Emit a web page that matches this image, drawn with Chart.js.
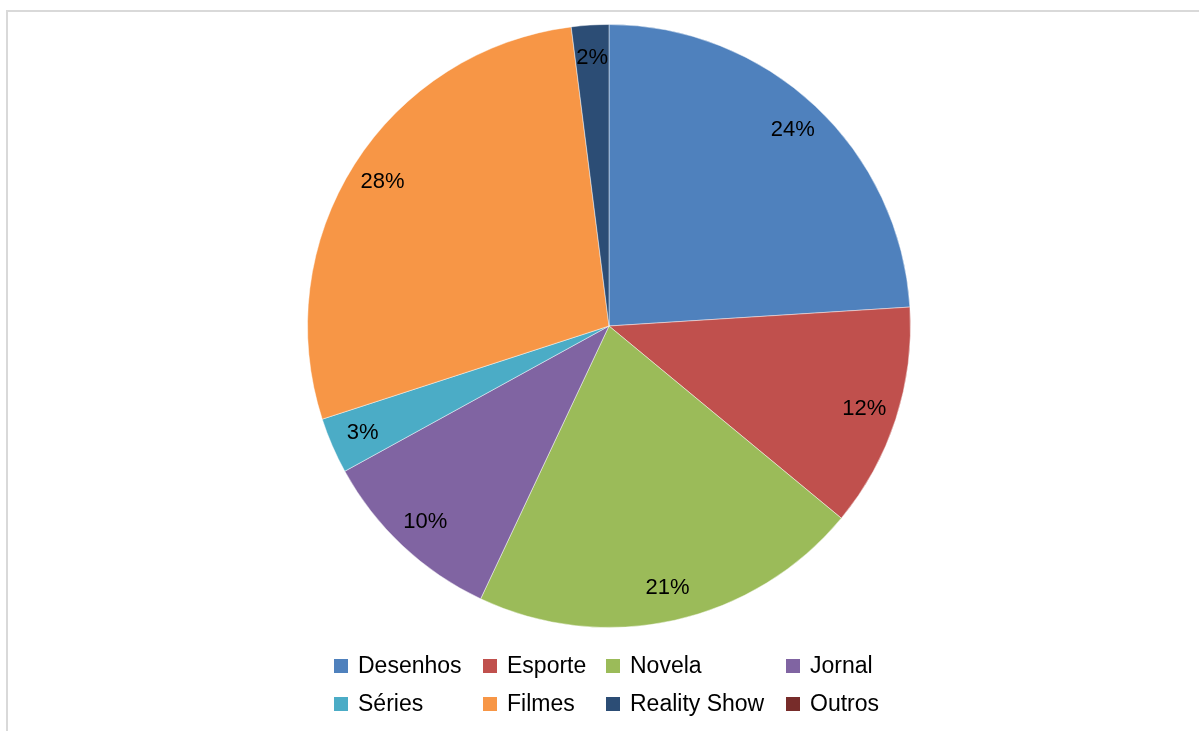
<!DOCTYPE html>
<html>
<head>
<meta charset="utf-8">
<title>Programas preferidos</title>
<script src="https://cdn.jsdelivr.net/npm/chart.js@4/dist/chart.umd.min.js"></script>
<style>
  html, body { margin: 0; padding: 0; background: #fff; overflow: hidden; }
  #wrap { position: relative; width: 1199px; height: 731px; }
  #frame {
    position: absolute; left: 6px; top: 10px; right: -10px; bottom: -10px;
    border: 2px solid #d9d9d9;
  }
  #pieChart { position: absolute; left: 0; top: 0; }
</style>
</head>
<body>
<div id="wrap">
  <div id="frame"></div>
  <canvas id="pieChart" width="1199" height="731"></canvas>
</div>
<script>
var categorias = ['Desenhos', 'Esporte', 'Novela', 'Jornal', 'Séries', 'Filmes', 'Reality Show', 'Outros'];
var percentuais = [24, 12, 21, 10, 3, 28, 2, 0];
var cores = ['#4f81bd', '#c0504d', '#9bbb59', '#8064a2', '#4bacc6', '#f79646', '#2c4d75', '#772c2a'];

var fonte = '"Liberation Sans", Arial, sans-serif';

// rotulos de porcentagem dentro das fatias
var rotulosFatias = {
    id: 'rotulosFatias',
    afterDatasetsDraw: function(chart) {
        var ctx = chart.ctx;
        var meta = chart.getDatasetMeta(0);
        ctx.save();
        ctx.font = '22px ' + fonte;
        ctx.fillStyle = '#000';
        ctx.textAlign = 'center';
        ctx.textBaseline = 'middle';
        meta.data.forEach(function(arc, i) {
            var v = percentuais[i];
            if (!v) return;
            var mid = (arc.startAngle + arc.endAngle) / 2;
            var r = arc.outerRadius * 0.89;
            ctx.fillText(v + '%', arc.x + Math.cos(mid) * r, arc.y + Math.sin(mid) * r);
        });
        ctx.restore();
    }
};

// legenda em grade de 4 colunas
var legendaGrade = {
    id: 'legendaGrade',
    afterDraw: function(chart) {
        var ctx = chart.ctx;
        var colunas = [334, 483, 606, 786];
        var linhas = [666, 704];
        ctx.save();
        ctx.font = '23px ' + fonte;
        ctx.textBaseline = 'middle';
        categorias.forEach(function(nome, i) {
            var x = colunas[i % 4];
            var y = linhas[Math.floor(i / 4)];
            ctx.fillStyle = cores[i];
            ctx.fillRect(x, y - 7, 14, 14);
            ctx.fillStyle = '#000';
            ctx.fillText(nome, x + 24, y + 1);
        });
        ctx.restore();
    }
};

var ctx = document.getElementById('pieChart').getContext('2d');
var myChart = new Chart(ctx, {
    type: 'pie',
    data: {
        labels: categorias,
        datasets: [{
            data: percentuais,
            backgroundColor: cores,
            borderColor: 'rgba(255,255,255,0.45)',
            borderWidth: 1
        }]
    },
    options: {
        responsive: false,
        animation: false,
        layout: { padding: { top: 24, bottom: 103, left: 19, right: 0 } },
        plugins: {
            legend: { display: false },
            tooltip: { enabled: false }
        }
    },
    plugins: [rotulosFatias, legendaGrade]
});
</script>
</body>
</html>
